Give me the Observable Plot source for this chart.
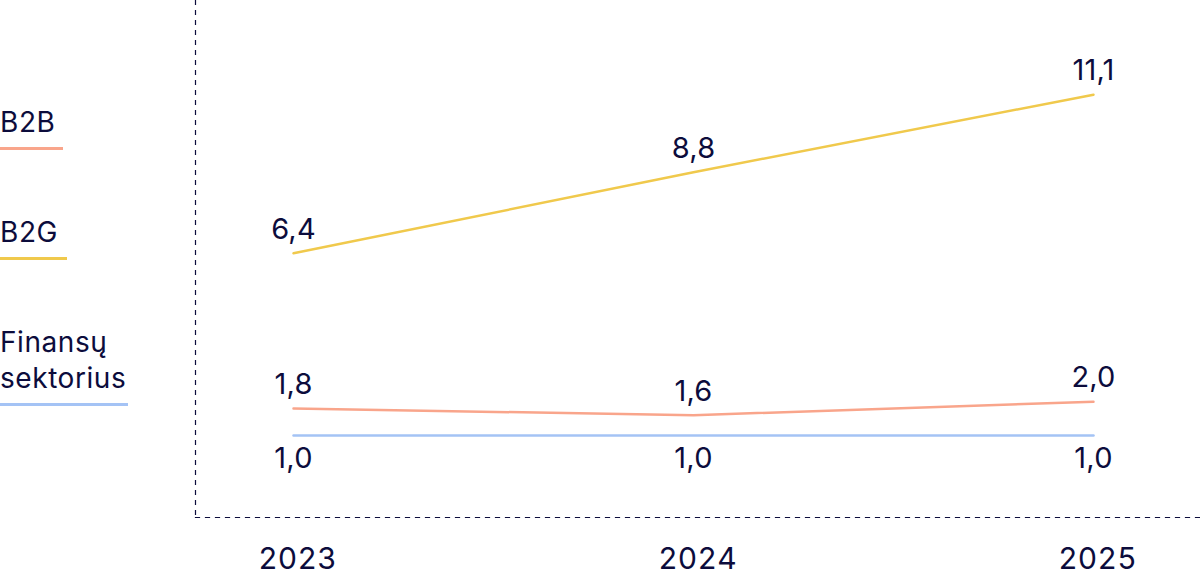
<!DOCTYPE html>
<html>
<head>
<meta charset="utf-8">
<script src="https://cdn.jsdelivr.net/npm/d3@7"></script>
<script src="https://cdn.jsdelivr.net/npm/@observablehq/plot@0.6"></script>
<style>
  html, body { margin: 0; padding: 0; background: #fff; }
  #wrap { position: relative; width: 1200px; height: 577px; font-family: Inter, "Noto Sans", sans-serif; color: #0c0c3c; }
  .leg { position: absolute; left: 0; font-size: 28px; line-height: 36px; letter-spacing: 0.02em; }
  .leg .u { height: 3px; margin-top: 7px; }
  svg { display: block; }
</style>
</head>
<body>
<div id="wrap"></div>
<script>
const years = [2023, 2024, 2025];
const seriesNames = ["B2B", "B2G", "Finansų sektorius"];
const b2b = [1.8, 1.6, 2.0];
const b2g = [6.4, 8.8, 11.1];
const finansu = [1.0, 1.0, 1.0];
const colors = ["#f9a58b", "#f0c94c", "#a4c3f5"];

const data = [];
[b2b, b2g, finansu].forEach((vals, s) => {
  vals.forEach((v, i) => data.push({series: seriesNames[s], year: years[i], value: v, below: s === 2}));
});
const fmt = v => v.toFixed(1).replace(".", ",");
const ink = "#0c0c3c";

const chart = Plot.plot({
  width: 1200,
  height: 577,
  marginLeft: 195,
  marginRight: 0,
  marginTop: 0,
  marginBottom: 60,
  style: {fontFamily: "Inter, 'Noto Sans', sans-serif", color: ink, background: "white", letterSpacing: "0.02em"},
  x: {domain: [2023, 2025], range: [293, 1093], label: null},
  y: {domain: [-1.43, 13.89], axis: null},
  color: {domain: seriesNames, range: colors},
  marks: [
    Plot.frame({anchor: "left", stroke: ink, strokeDasharray: "4,6", strokeWidth: 1.2}),
    Plot.frame({anchor: "bottom", stroke: ink, strokeDasharray: "4,6", strokeWidth: 1.2}),
    Plot.axisX({ticks: years, tickFormat: d => String(d), tickSize: 0, tickPadding: 30, fontSize: 30, dx: 4, fill: ink, label: null}),
    Plot.line(data, {x: "year", y: "value", z: "series", stroke: "series", strokeWidth: 2.5}),
    Plot.text(data.filter(d => !d.below), {x: "year", y: "value", text: d => fmt(d.value), dy: -24, fontSize: 29, fill: ink}),
    Plot.text(data.filter(d => d.below), {x: "year", y: "value", text: d => fmt(d.value), dy: 23, fontSize: 29, fill: ink})
  ]
});

const wrap = document.getElementById("wrap");
wrap.appendChild(chart);

const legendPos = [
  {top: 104, width: 63, lines: ["B2B"]},
  {top: 214, width: 67, lines: ["B2G"]},
  {top: 324, width: 128, lines: ["Finansų", "sektorius"]}
];
seriesNames.forEach((name, i) => {
  const p = legendPos[i];
  const div = document.createElement("div");
  div.className = "leg";
  div.style.top = p.top + "px";
  div.innerHTML = p.lines.join("<br>") + `<div class="u" style="width:${p.width}px;background:${colors[i]}"></div>`;
  wrap.appendChild(div);
});
</script>
</body>
</html>
